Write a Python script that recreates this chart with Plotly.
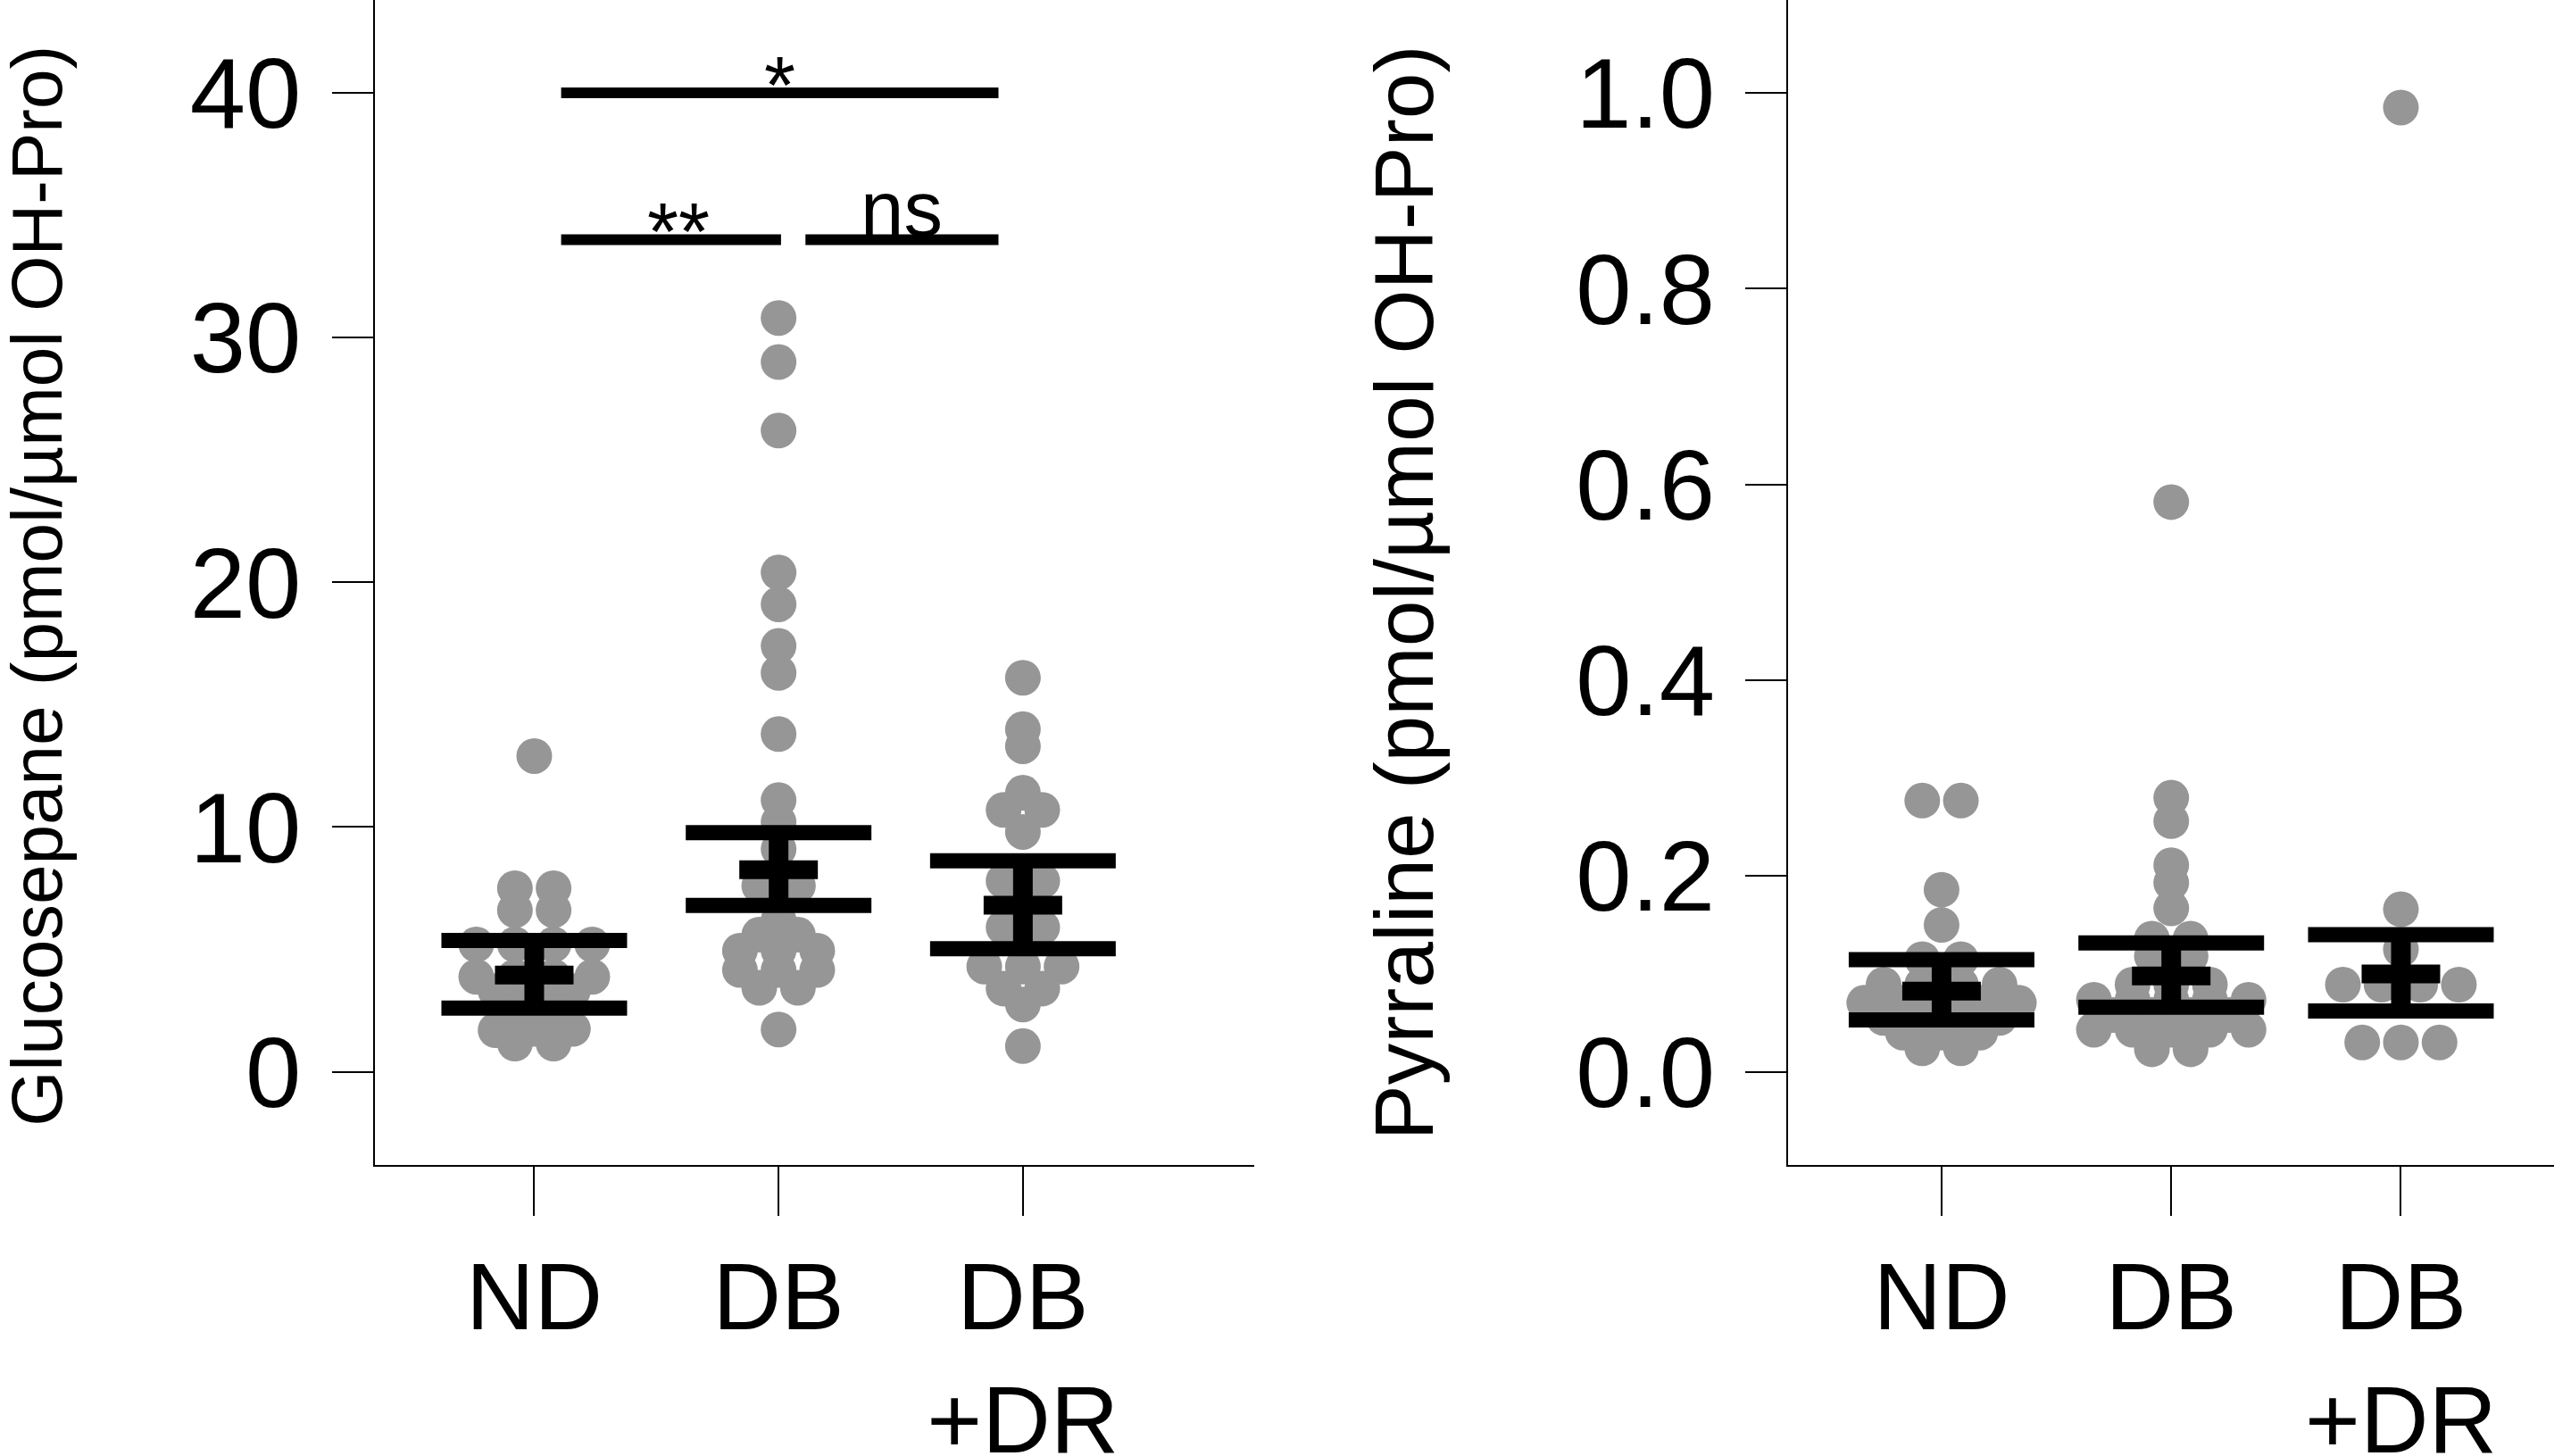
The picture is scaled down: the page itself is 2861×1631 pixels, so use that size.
import plotly.graph_objects as go

W, H = 2861, 1631

# ---------------- data ----------------
categories = ["ND", "DB", "DB<br>+DR"]

gluc_nd = [12.9, 7.5, 7.5, 6.6, 6.6, 5.2, 5.2, 5.2, 5.2, 3.88, 3.88, 3.88, 3.88,
           3.3, 3.3, 3.3, 2.5, 2.5, 1.75, 1.7, 1.75, 1.15, 1.15]
gluc_db = [30.8, 29.0, 26.2, 20.4, 19.1, 17.4, 16.3, 13.8, 11.1, 10.2, 9.1, 7.6, 7.6,
           6.2, 5.6, 5.6, 4.95, 4.95, 4.95, 4.16, 4.16, 4.16, 3.43, 3.43, 1.73]
gluc_dbdr = [16.1, 14.0, 13.3, 11.4, 10.7, 10.7, 9.8, 7.8, 7.8, 5.9, 5.9,
             4.3, 4.3, 4.3, 3.4, 3.4, 2.75, 1.05]
gluc_mean = [3.95, 8.26, 6.81]
gluc_upper = [5.37, 9.77, 8.62]
gluc_lower = [2.60, 6.80, 5.03]

pyr_nd = [0.277, 0.277, 0.186, 0.150, 0.115, 0.115, 0.089, 0.089, 0.089, 0.089,
          0.0705, 0.0705, 0.0705, 0.0705, 0.0705, 0.055, 0.055, 0.055, 0.055,
          0.040, 0.040, 0.040, 0.024, 0.024]
pyr_db = [0.582, 0.280, 0.256, 0.211, 0.193, 0.167, 0.136, 0.136, 0.118, 0.118,
          0.089, 0.089, 0.089, 0.0735, 0.0735, 0.0735, 0.0735, 0.0735,
          0.058, 0.058, 0.058, 0.058, 0.043, 0.043, 0.043, 0.043, 0.043, 0.023, 0.023]
pyr_dbdr = [0.985, 0.166, 0.125, 0.089, 0.089, 0.089, 0.089, 0.030, 0.030, 0.030]
pyr_mean = [0.0825, 0.098, 0.100]
pyr_upper = [0.1145, 0.1316, 0.140]
pyr_lower = [0.053, 0.066, 0.062]

gluc_ticks = [0, 10, 20, 30, 40]
pyr_ticks = [0.0, 0.2, 0.4, 0.6, 0.8, 1.0]

sig_x0 = [0.11, 0.11, 1.11]
sig_x1 = [1.90, 1.01, 1.90]
sig_y = [40, 34, 34]
sig_text = ["*", "**", "ns"]

gluc_title = "Glucosepane (pmol/µmol OH-Pro)"
pyr_title = "Pyrraline (pmol/µmol OH-Pro)"

# ---------------- styling / layout constants ----------------
FONT = "Liberation Sans, Arial, sans-serif"
DOT = 40            # dot diameter, px
DOT_COLOR = "#969696"
LONG_HALF = 104     # px
MEAN_HALF = 44      # px

S = W / 1568.0      # reference-display to output pixel factor
left_dom = [230 * S / W, 770 * S / W]
right_dom = [1098 * S / W, 1.0]
y_dom = [1 - 715 * S / H, 1.0]
left_xr = [(230 - 328) / 150.0, (770 - 328) / 150.0]
right_xr = [(1098 - 1192) / 141.0, (1568 - 1192) / 141.0]
left_yr = [-(715 - 658) / 15.025, 658 / 15.025]
right_yr = [-(715 - 658) / 601.0, 658 / 601.0]


def swarm(values, center, h, step):
    order = sorted(range(len(values)), key=lambda i: values[i])
    rows = []
    for i in order:
        if rows and values[i] - values[rows[-1][0]] < h:
            rows[-1].append(i)
        else:
            rows.append([i])
    xs = [0.0] * len(values)
    for row in rows:
        n = len(row)
        for j, i in enumerate(row):
            xs[i] = center + (j - (n - 1) / 2.0) * step
    return xs


panels = [
    dict(xa="x", ya="y", groups=[gluc_nd, gluc_db, gluc_dbdr], mean=gluc_mean,
         up=gluc_upper, lo=gluc_lower, h=0.45, xr=left_xr, dom=left_dom),
    dict(xa="x2", ya="y2", groups=[pyr_nd, pyr_db, pyr_dbdr], mean=pyr_mean,
         up=pyr_upper, lo=pyr_lower, h=0.014, xr=right_xr, dom=right_dom),
]

fig = go.Figure()
shapes = []
for p in panels:
    px_per_unit = (p["dom"][1] - p["dom"][0]) * W / (p["xr"][1] - p["xr"][0])
    step = 43.3 / px_per_unit
    lh = LONG_HALF / px_per_unit
    mh = MEAN_HALF / px_per_unit
    for gi, vals in enumerate(p["groups"]):
        xs = swarm(vals, gi, p["h"], step)
        fig.add_trace(go.Scatter(
            x=xs, y=vals, mode="markers", xaxis=p["xa"], yaxis=p["ya"],
            marker=dict(size=DOT, color=DOT_COLOR, line=dict(width=0)),
            showlegend=False, hoverinfo="skip"))
    for gi in range(3):
        m, u, l = p["mean"][gi], p["up"][gi], p["lo"][gi]
        common = dict(type="line", xref=p["xa"], yref=p["ya"], layer="above")
        shapes.append(dict(common, x0=gi, x1=gi, y0=l, y1=u,
                           line=dict(color="black", width=22)))
        shapes.append(dict(common, x0=gi - lh, x1=gi + lh, y0=u, y1=u,
                           line=dict(color="black", width=17)))
        shapes.append(dict(common, x0=gi - lh, x1=gi + lh, y0=l, y1=l,
                           line=dict(color="black", width=17)))
        shapes.append(dict(common, x0=gi - mh, x1=gi + mh, y0=m, y1=m,
                           line=dict(color="black", width=21)))

annotations = []
for x0, x1, yv, txt in zip(sig_x0, sig_x1, sig_y, sig_text):
    shapes.append(dict(type="line", xref="x", yref="y", x0=x0, x1=x1, y0=yv, y1=yv,
                       line=dict(color="black", width=12)))
    is_ns = txt == "ns"
    annotations.append(dict(
        x=(x0 + x1) / 2.0 + (0.03 if txt == "**" else 0.0),
        y=yv, xref="x", yref="y", text=txt, showarrow=False,
        xanchor="center", yanchor="middle",
        yshift=35 if is_ns else 8,
        font=dict(family=FONT, size=87 if is_ns else 90, color="black")))

annotations.append(dict(x=42 / W, y=1 - 360 * S / H, xref="paper", yref="paper",
                        text=gluc_title, textangle=-90, showarrow=False,
                        xanchor="center", yanchor="middle",
                        font=dict(family=FONT, size=80, color="black")))
annotations.append(dict(x=1573 / W, y=1 - 364 * S / H, xref="paper", yref="paper",
                        text=pyr_title, textangle=-90, showarrow=False,
                        xanchor="center", yanchor="middle",
                        font=dict(family=FONT, size=93, color="black")))

xcommon = dict(tickmode="array", tickvals=[0, 1, 2], ticktext=categories,
               ticks="outside", ticklen=55, tickwidth=2, tickcolor="black",
               showline=True, linecolor="black", linewidth=2, showgrid=False,
               zeroline=False, automargin=False,
               tickfont=dict(family=FONT, size=106, color="black"))
ycommon = dict(ticks="outside", ticklen=46, tickwidth=2, tickcolor="black",
               showline=True, linecolor="black", linewidth=2, showgrid=False,
               zeroline=False, automargin=False, tickmode="array",
               ticklabelstandoff=12,
               tickfont=dict(family=FONT, size=112, color="black"), domain=y_dom)

fig.update_layout(
    width=W, height=H, margin=dict(l=0, r=0, t=0, b=0),
    paper_bgcolor="white", plot_bgcolor="white",
    xaxis=dict(xcommon, domain=left_dom, range=left_xr, anchor="y"),
    yaxis=dict(ycommon, range=left_yr, anchor="x", tickvals=gluc_ticks,
               ticktext=[str(t) for t in gluc_ticks]),
    xaxis2=dict(xcommon, domain=right_dom, range=right_xr, anchor="y2"),
    yaxis2=dict(ycommon, range=right_yr, anchor="x2", tickvals=pyr_ticks,
                ticktext=["%.1f" % t for t in pyr_ticks]),
    shapes=shapes, annotations=annotations, showlegend=False,
)

fig.write_html("out.html",
               config={"displayModeBar": False, "staticPlot": True},
               post_script="document.body.style.margin='0px';"
                           "document.body.style.overflow='hidden';")
